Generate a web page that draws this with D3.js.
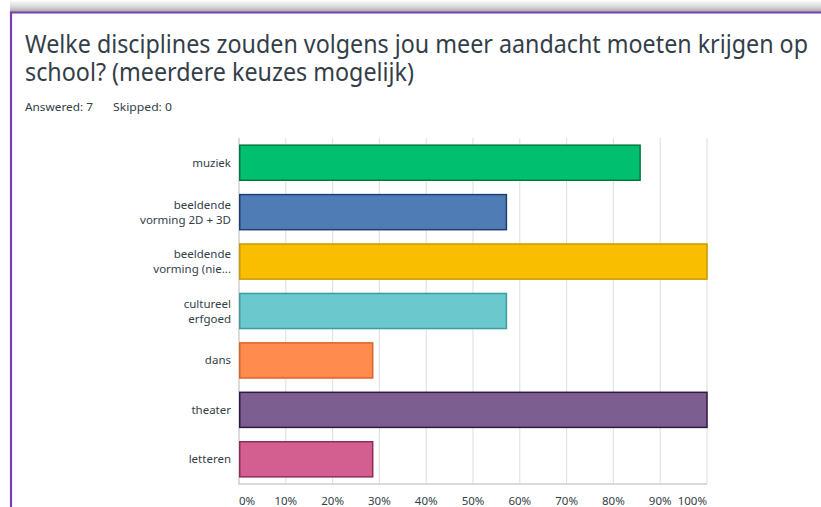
<!DOCTYPE html>
<html>
<head>
<meta charset="utf-8">
<script src="https://cdn.jsdelivr.net/npm/d3@7"></script>
<style>
	body { margin: 0; background: #fff; }
	svg text { font-family: "Noto Sans", "Open Sans", sans-serif; fill: #333e48; }
</style>
</head>
<body>
<div id="chart"></div>
<script>
// survey answers, 7 respondents
const categories = [
	["muziek"],
	["beeldende", "vorming 2D + 3D"],
	["beeldende", "vorming (nie..."],
	["cultureel", "erfgoed"],
	["dans"],
	["theater"],
	["letteren"]
];
const percentages = [85.71, 57.14, 100, 57.14, 28.57, 100, 28.57];
const barColors = ["#00bf6f", "#507cb6", "#f9be00", "#6bc8cd", "#ff8b4f", "#7d5e90", "#d25f90"];
const edgeColors = ["#007a45", "#1f3f73", "#c99a00", "#3e9da2", "#d9642a", "#2f1a40", "#8f2c58"];
const tickValues = [0, 10, 20, 30, 40, 50, 60, 70, 80, 90, 100];
const titleLines = ["Welke disciplines zouden volgens jou meer aandacht moeten krijgen op", "school? (meerdere keuzes mogelijk)"];
const answered = 7, skipped = 0;

const width = 821, height = 507;
const svg = d3.select('#chart').append('svg')
	.attr('width', width)
	.attr('height', height);

// shadow above the panel
const defs = svg.append('defs');
const grad = defs.append('linearGradient').attr('id', 'topShadow')
	.attr('x1', 0).attr('y1', 0).attr('x2', 0).attr('y2', 1);
grad.append('stop').attr('offset', '0%').attr('stop-color', '#ffffff');
grad.append('stop').attr('offset', '60%').attr('stop-color', '#d4d4d4');
grad.append('stop').attr('offset', '100%').attr('stop-color', '#a8a8a8');
svg.append('rect')
	.attr('x', 10).attr('y', 0).attr('width', width - 10).attr('height', 12)
	.attr('fill', 'url(#topShadow)');

// panel border
svg.append('path')
	.attr('d', `M11,${height} V12.5 H${width}`)
	.attr('fill', 'none')
	.attr('stroke', '#7b3fb3')
	.attr('stroke-width', 2.2);

// title (narrow glyphs like the original font)
const titleWidths = [783, 389];
titleLines.forEach((t, i) => {
	svg.append('text')
		.attr('x', 25)
		.attr('y', 53 + i * 28)
		.attr('font-size', 25.5)
		.attr('textLength', titleWidths[i])
		.attr('lengthAdjust', 'spacingAndGlyphs')
		.text(t);
});

svg.append('text')
	.attr('x', 25).attr('y', 111)
	.attr('font-size', 11.5)
	.attr('textLength', 68)
	.attr('lengthAdjust', 'spacingAndGlyphs')
	.text(`Answered: ${answered}`);
svg.append('text')
	.attr('x', 113).attr('y', 111)
	.attr('font-size', 11.5)
	.attr('textLength', 59)
	.attr('lengthAdjust', 'spacingAndGlyphs')
	.text(`Skipped: ${skipped}`);

const x = d3.scaleLinear().domain([0, 100]).range([239, 707]);
const y = d3.scaleBand()
	.domain(d3.range(categories.length))
	.range([138, 484])
	.paddingInner(0.29)
	.paddingOuter(0.145);

// grid
svg.append('g').selectAll('line')
	.data(tickValues.slice(1))
	.enter().append('line')
	.attr('x1', d => x(d)).attr('x2', d => x(d))
	.attr('y1', 138).attr('y2', 484)
	.attr('stroke', '#e3e3e3')
	.attr('stroke-width', 1.2);

// axis lines
svg.append('path')
	.attr('d', `M${x(0)},138 V484 H${x(100)}`)
	.attr('fill', 'none')
	.attr('stroke', '#cfcfcf')
	.attr('stroke-width', 1.5);

// bars
svg.append('g').selectAll('rect')
	.data(percentages)
	.enter().append('rect')
	.attr('x', x(0) + 0.75)
	.attr('y', (d, i) => y(i))
	.attr('width', d => x(d) - x(0) - 0.75)
	.attr('height', y.bandwidth())
	.attr('fill', (d, i) => barColors[i])
	.attr('stroke', (d, i) => edgeColors[i])
	.attr('stroke-width', 1.5);

// category labels
const labels = svg.append('g').selectAll('text')
	.data(categories)
	.enter().append('text')
	.attr('text-anchor', 'end')
	.attr('font-size', 11.5)
	.attr('y', (d, i) => y(i) + y.bandwidth() / 2);
labels.each(function(lines) {
	const t = d3.select(this);
	lines.forEach((l, j) => {
		t.append('tspan')
			.attr('x', 231)
			.attr('dy', j === 0 ? ((1 - lines.length) * 7.5 + 4) : 15)
			.text(l);
	});
});

// x tick labels
svg.append('g').selectAll('text')
	.data(tickValues)
	.enter().append('text')
	.attr('x', d => x(d))
	.attr('y', 505)
	.attr('font-size', 11.5)
	.attr('text-anchor', d => d === 0 ? 'start' : d === 100 ? 'end' : 'middle')
	.text(d => d + '%');
</script>
</body>
</html>
